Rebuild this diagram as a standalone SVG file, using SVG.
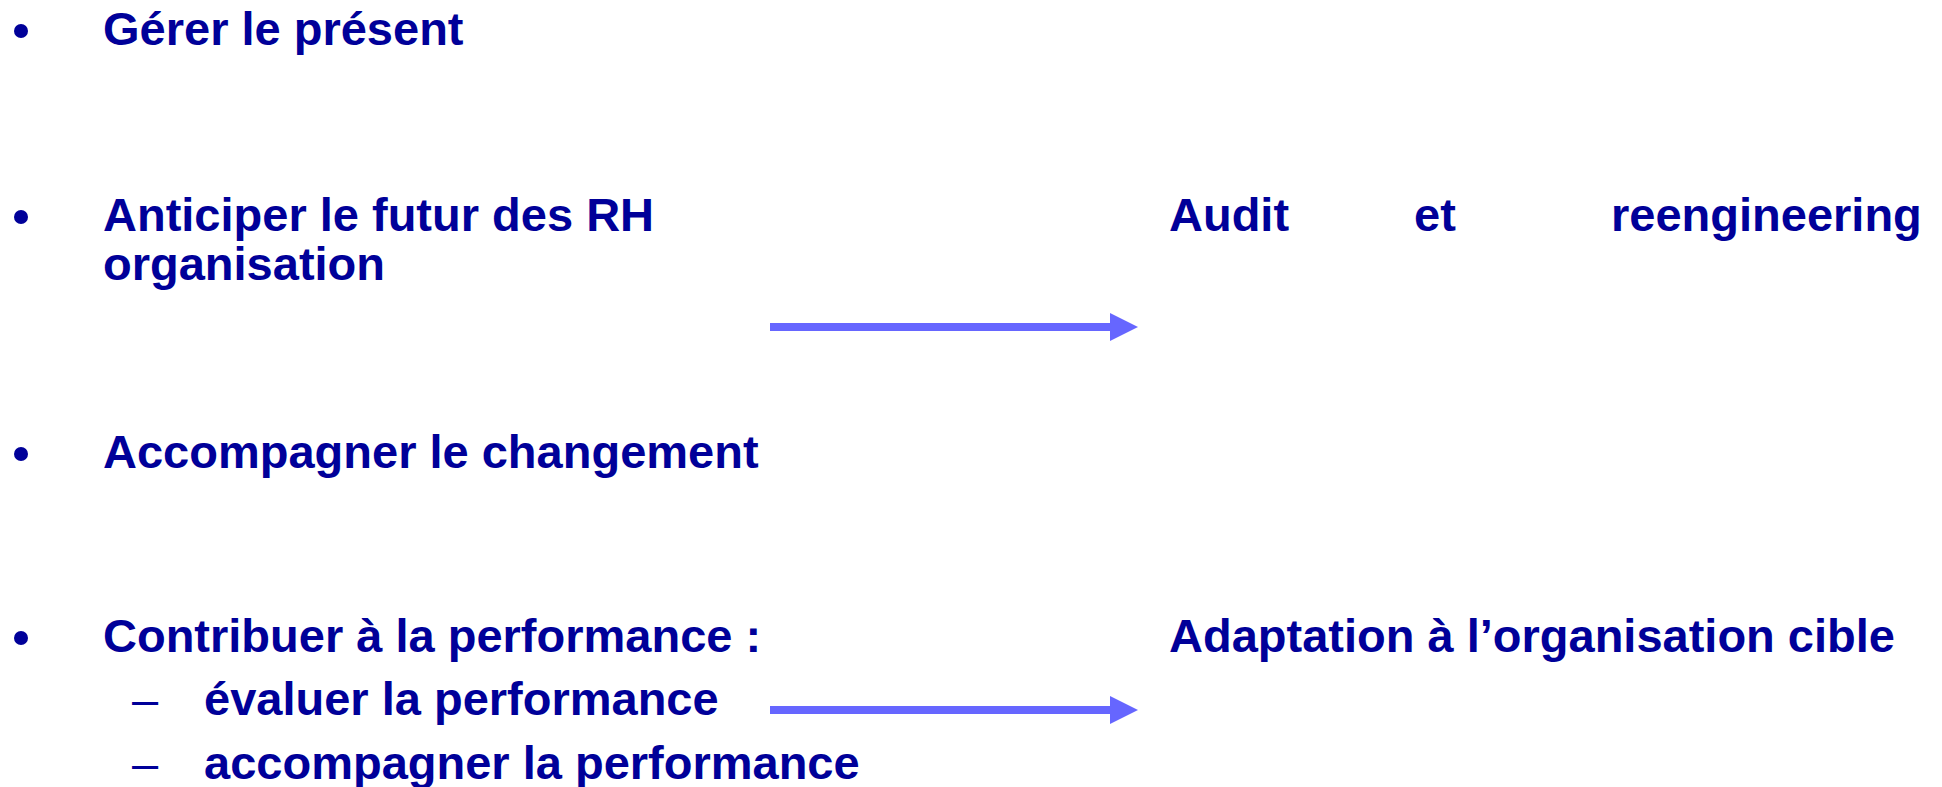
<svg xmlns="http://www.w3.org/2000/svg" width="1942" height="787" viewBox="0 0 1942 787">
<style>
.t{font-family:"Liberation Sans",Arial,sans-serif;font-weight:bold;font-size:47px;fill:#000099}
.d{font-family:"Liberation Sans",Arial,sans-serif;font-size:47px;fill:#000099}
.c{stroke:#6666FF;stroke-width:8;fill:none}
</style>
<defs>
<marker id="ah" markerUnits="userSpaceOnUse" markerWidth="30" markerHeight="30" refX="0" refY="14" orient="auto">
<path d="M0,0 L28,14 L0,28 Z" fill="#6666FF"/>
</marker>
</defs>
<rect width="1942" height="787" fill="#ffffff"/>
<g id="item1">
<circle cx="21" cy="31" r="7" fill="#000099"/>
<text class="t" x="103" y="45">Gérer le présent</text>
</g>
<g id="item2">
<circle cx="21" cy="217" r="7" fill="#000099"/>
<text class="t" x="103" y="231">Anticiper le futur des RH</text>
<text class="t" x="103" y="280">organisation</text>
</g>
<g id="item3">
<circle cx="21" cy="454" r="7" fill="#000099"/>
<text class="t" x="103" y="468">Accompagner le changement</text>
</g>
<g id="item4">
<circle cx="21" cy="638" r="7" fill="#000099"/>
<text class="t" x="103" y="652">Contribuer à la performance :</text>
<text class="d" x="132" y="715">–</text>
<text class="t" x="204" y="715">évaluer la performance</text>
<text class="d" x="132" y="779">–</text>
<text class="t" x="204" y="779">accompagner la performance</text>
</g>
<g id="target1">
<text class="t" x="1169" y="231">Audit</text>
<text class="t" x="1414" y="231">et</text>
<text class="t" x="1611" y="231">reengineering</text>
</g>
<g id="target2">
<text class="t" x="1169" y="652">Adaptation à l’organisation cible</text>
</g>
<g id="connectors">
<line class="c" x1="770" y1="327" x2="1110" y2="327" marker-end="url(#ah)"/>
<line class="c" x1="770" y1="710" x2="1110" y2="710" marker-end="url(#ah)"/>
</g>
</svg>
